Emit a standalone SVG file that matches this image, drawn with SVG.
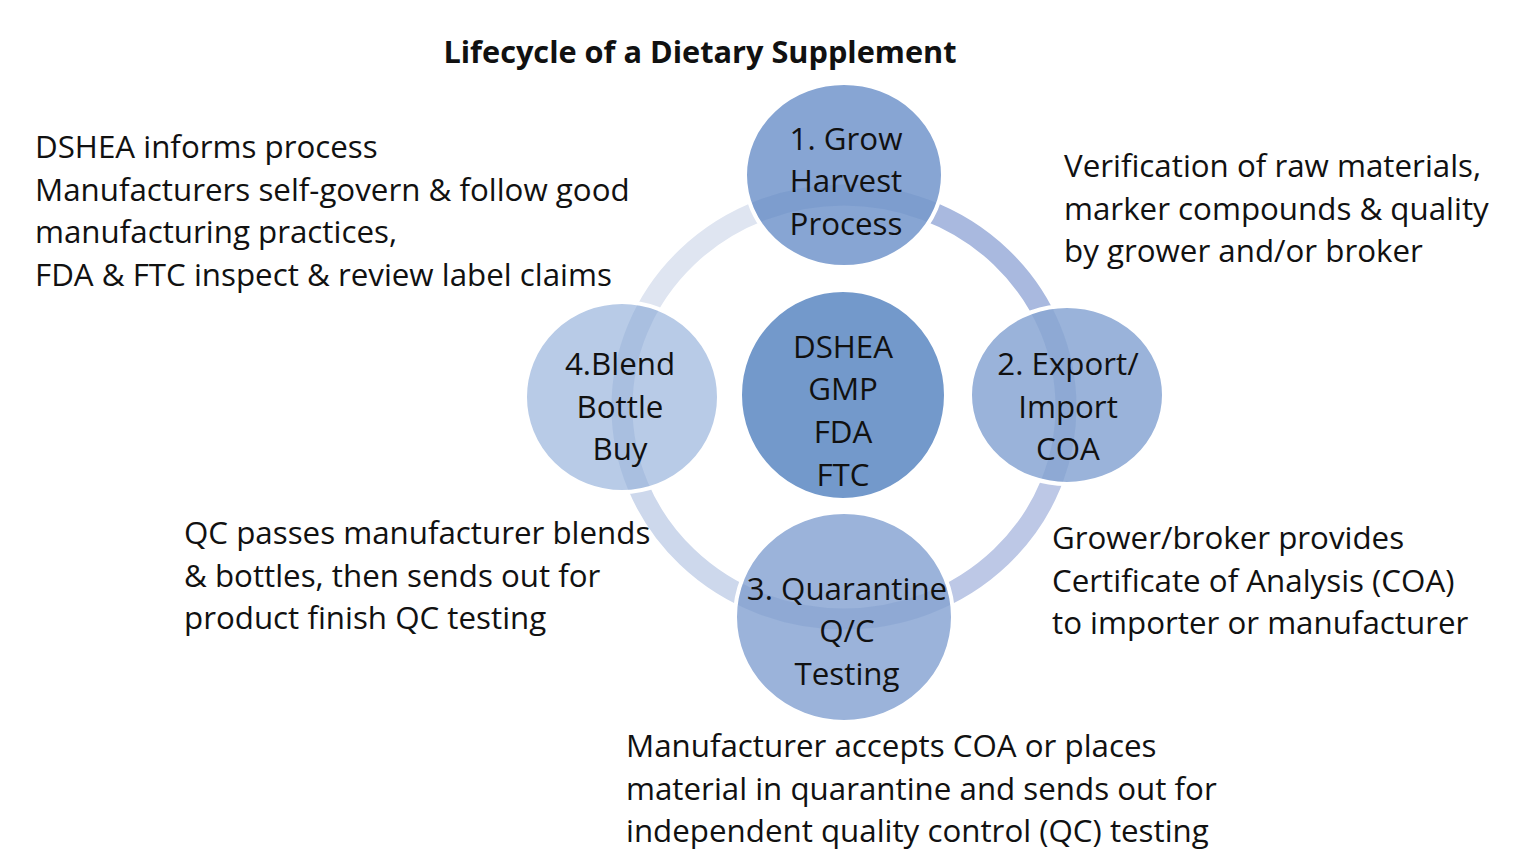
<svg xmlns="http://www.w3.org/2000/svg" width="1529" height="867" viewBox="0 0 1529 867">
  <style>
    .t { font-family: "Open Sans", "Noto Sans", "Liberation Sans", sans-serif; font-size: 31.3px; fill: #111; }
    .c { text-anchor: middle; }
    .title { font-family: "Open Sans", "Noto Sans", "Liberation Sans", sans-serif; font-size: 30.7px; font-weight: bold; fill: #111; text-anchor: middle; }
    .ring { fill: none; stroke-width: 21; }
    .node { stroke: #ffffff; stroke-width: 4; }
    .overlay { fill: none; stroke-width: 21; stroke: #2a5aa8; stroke-opacity: 0.1; }
  </style>
  <defs>
    <clipPath id="inNodes">
      <ellipse cx="844" cy="175" rx="97" ry="90"/>
      <ellipse cx="622" cy="397" rx="95" ry="93"/>
      <ellipse cx="1067" cy="395" rx="95" ry="87"/>
      <ellipse cx="844" cy="617" rx="107" ry="103"/>
    </clipPath>
  </defs>
  <rect width="1529" height="867" fill="#ffffff"/>

  <text class="title" x="700" y="63">Lifecycle of a Dietary Supplement</text>

  <g id="connectors">
    <path class="ring" stroke="#dfe5f1" d="M 622 407 A 222 212 0 0 1 844 195"/>
    <path class="ring" stroke="#a9b9df" d="M 844 195 A 222 212 0 0 1 1066 407"/>
    <path class="ring" stroke="#bdc8e6" d="M 1066 407 A 222 212 0 0 1 844 619"/>
    <path class="ring" stroke="#cdd8ec" d="M 844 619 A 222 212 0 0 1 622 407"/>
  </g>

  <g id="node-center">
    <ellipse class="node" cx="843" cy="395" rx="103" ry="105" fill="#7399cb"/>
    <text class="t c" x="843" y="358">DSHEA</text>
    <text class="t c" x="843" y="400">GMP</text>
    <text class="t c" x="843" y="443">FDA</text>
    <text class="t c" x="843" y="486">FTC</text>
  </g>

  <g id="node-1">
    <ellipse class="node" cx="844" cy="175" rx="99" ry="92" fill="#87a5d3"/>
  </g>
  <g id="node-4">
    <ellipse class="node" cx="622" cy="397" rx="97" ry="95" fill="#b8cbe7"/>
  </g>
  <g id="node-2">
    <ellipse class="node" cx="1067" cy="395" rx="97" ry="89" fill="#9ab3da"/>
  </g>
  <g id="node-3">
    <ellipse class="node" cx="844" cy="617" rx="109" ry="105" fill="#9bb3da"/>
  </g>

  <g id="ring-overlay" clip-path="url(#inNodes)">
    <ellipse class="overlay" cx="844" cy="407" rx="222" ry="212"/>
  </g>

  <g id="node-1-label">
    <text class="t c" x="846" y="150">1. Grow</text>
    <text class="t c" x="846" y="192">Harvest</text>
    <text class="t c" x="846" y="235">Process</text>
  </g>
  <g id="node-4-label">
    <text class="t c" x="620" y="375">4.Blend</text>
    <text class="t c" x="620" y="418">Bottle</text>
    <text class="t c" x="620" y="460">Buy</text>
  </g>
  <g id="node-2-label">
    <text class="t c" x="1068" y="375">2. Export/</text>
    <text class="t c" x="1068" y="418">Import</text>
    <text class="t c" x="1068" y="460">COA</text>
  </g>
  <g id="node-3-label">
    <text class="t c" x="847" y="600">3. Quarantine</text>
    <text class="t c" x="847" y="642">Q/C</text>
    <text class="t c" x="847" y="685">Testing</text>
  </g>

  <g id="note-top-left">
    <text class="t" x="35" y="158">DSHEA informs process</text>
    <text class="t" x="35" y="200.5">Manufacturers self-govern &amp; follow good</text>
    <text class="t" x="35" y="243">manufacturing practices,</text>
    <text class="t" x="35" y="285.5">FDA &amp; FTC inspect &amp; review label claims</text>
  </g>
  <g id="note-top-right">
    <text class="t" x="1064" y="177">Verification of raw materials,</text>
    <text class="t" x="1064" y="219.5">marker compounds &amp; quality</text>
    <text class="t" x="1064" y="262">by grower and/or broker</text>
  </g>
  <g id="note-bottom-right">
    <text class="t" x="1052" y="549">Grower/broker provides</text>
    <text class="t" x="1052" y="591.5">Certificate of Analysis (COA)</text>
    <text class="t" x="1052" y="634">to importer or manufacturer</text>
  </g>
  <g id="note-bottom-left">
    <text class="t" x="184" y="544">QC passes manufacturer blends</text>
    <text class="t" x="184" y="586.5">&amp; bottles, then sends out for</text>
    <text class="t" x="184" y="629">product finish QC testing</text>
  </g>
  <g id="note-bottom">
    <text class="t" x="626" y="757">Manufacturer accepts COA or places</text>
    <text class="t" x="626" y="799.5">material in quarantine and sends out for</text>
    <text class="t" x="626" y="842">independent quality control (QC) testing</text>
  </g>
</svg>
